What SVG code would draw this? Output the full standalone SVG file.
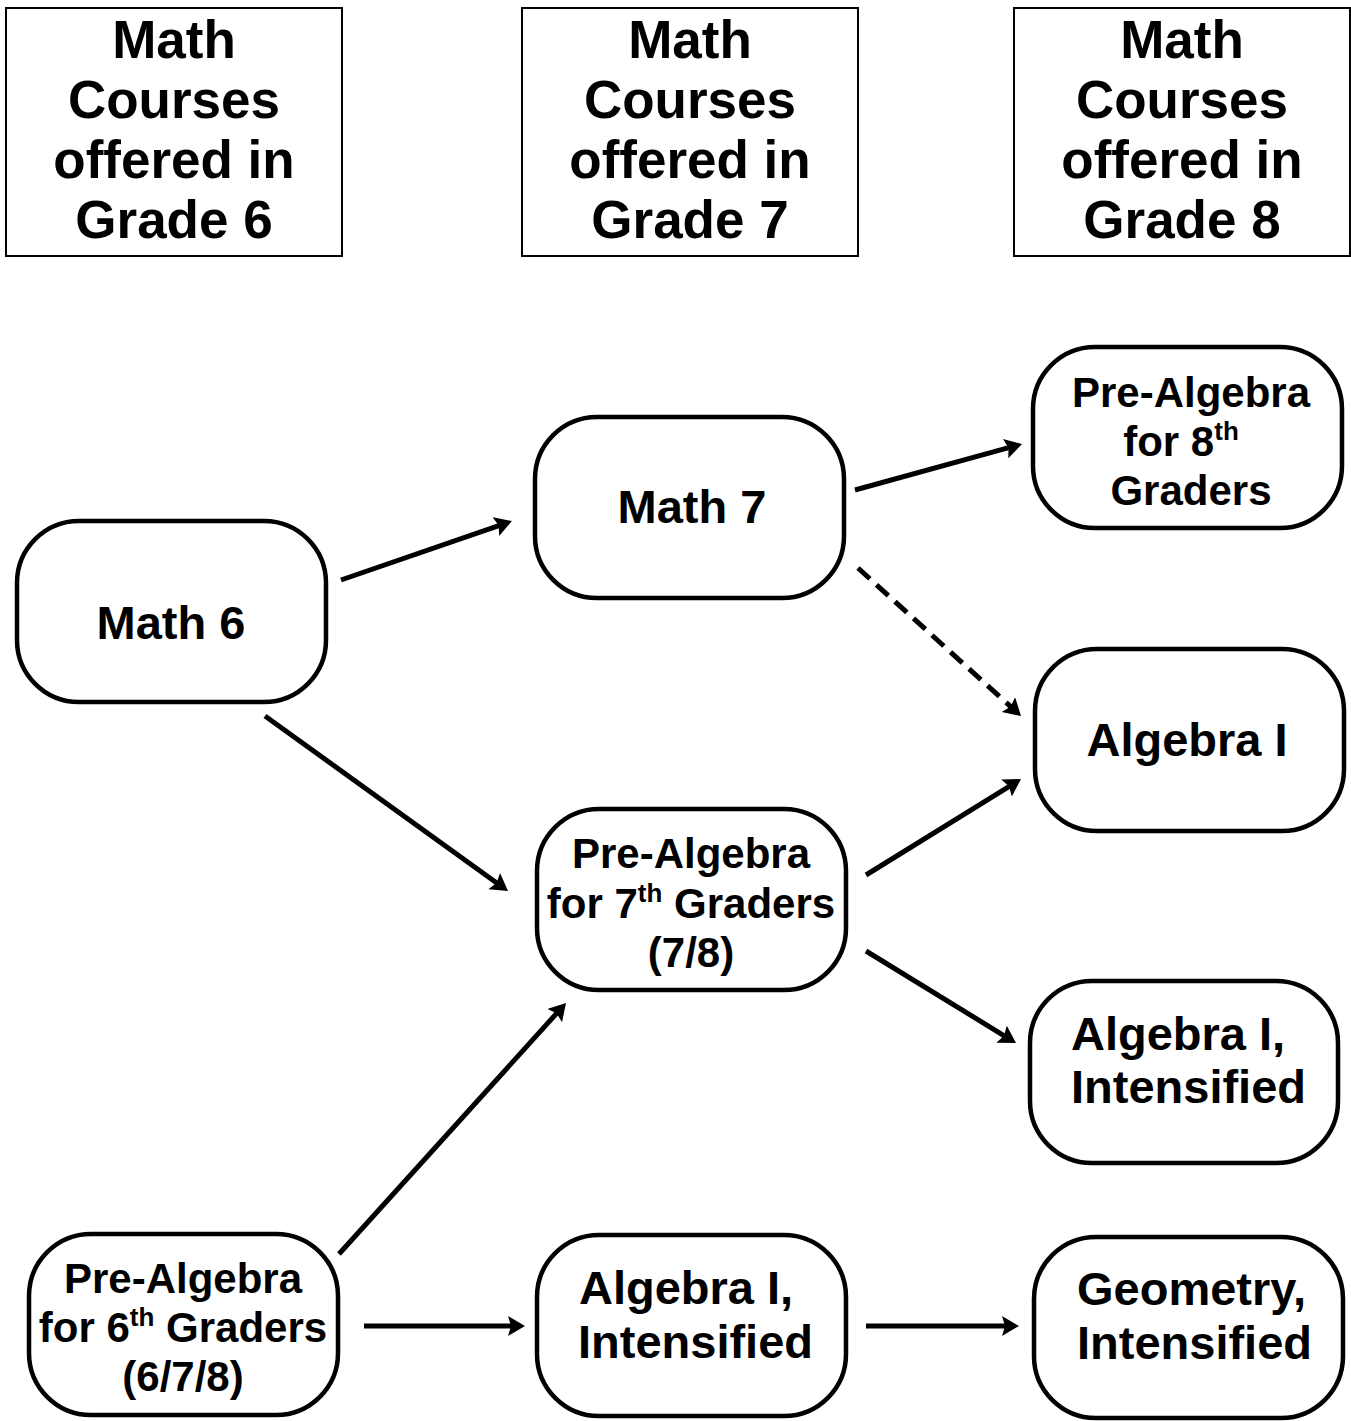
<svg xmlns="http://www.w3.org/2000/svg" width="1351" height="1421" viewBox="0 0 1351 1421">
<style>
.hdr{fill:#fff;stroke:#000;stroke-width:2}
.nd{fill:#fff;stroke:#000;stroke-width:4.5}
text{font-family:"Liberation Sans",Arial,sans-serif;font-weight:bold;fill:#000}
.h{font-size:53px;text-anchor:middle}
.b{font-size:47px;text-anchor:middle}
.s{font-size:42px;text-anchor:middle}
.l{font-size:47px}
.sup{font-size:26px}
.c{stroke:#000;stroke-width:5;fill:none;marker-end:url(#ah)}
.d{stroke-dasharray:16 9}
</style>
<defs>
<marker id="ah" markerUnits="userSpaceOnUse" markerWidth="24" markerHeight="24" refX="7" refY="10" orient="auto">
<path d="M0,0 L17,10 L0,20 L3,10 Z" fill="#000"/>
</marker>
</defs>
<rect width="1351" height="1421" fill="#fff"/>
<g id="header-grade6">
<rect class="hdr" x="6" y="8" width="336" height="248"/>
<text class="h" x="174" y="58">Math</text>
<text class="h" x="174" y="118">Courses</text>
<text class="h" x="174" y="178">offered in</text>
<text class="h" x="174" y="238">Grade 6</text>
</g>
<g id="header-grade7">
<rect class="hdr" x="522" y="8" width="336" height="248"/>
<text class="h" x="690" y="58">Math</text>
<text class="h" x="690" y="118">Courses</text>
<text class="h" x="690" y="178">offered in</text>
<text class="h" x="690" y="238">Grade 7</text>
</g>
<g id="header-grade8">
<rect class="hdr" x="1014" y="8" width="336" height="248"/>
<text class="h" x="1182" y="58">Math</text>
<text class="h" x="1182" y="118">Courses</text>
<text class="h" x="1182" y="178">offered in</text>
<text class="h" x="1182" y="238">Grade 8</text>
</g>
<g id="math6">
<rect class="nd" x="17" y="521" width="309" height="181" rx="62" ry="62"/>
<text class="b" x="171" y="639">Math 6</text>
</g>
<g id="math7">
<rect class="nd" x="535" y="417" width="309" height="181" rx="62" ry="62"/>
<text class="b" x="692" y="523">Math 7</text>
</g>
<g id="prealg8">
<rect class="nd" x="1033" y="347" width="309" height="181" rx="62" ry="62"/>
<text class="s" x="1191" y="407">Pre-Algebra</text>
<text class="s" x="1181" y="456">for 8<tspan class="sup" dy="-16">th</tspan></text>
<text class="s" x="1191" y="505">Graders</text>
</g>
<g id="algebra1">
<rect class="nd" x="1035" y="649" width="309" height="182" rx="62" ry="62"/>
<text class="b" x="1187" y="756">Algebra I</text>
</g>
<g id="prealg7">
<rect class="nd" x="537" y="809" width="309" height="181" rx="62" ry="62"/>
<text class="s" x="691" y="868">Pre-Algebra</text>
<text class="s" x="691" y="918">for 7<tspan class="sup" dy="-16">th</tspan><tspan dy="16"> Graders</tspan></text>
<text class="s" x="691" y="967">(7/8)</text>
</g>
<g id="alg1int-8">
<rect class="nd" x="1030" y="981" width="308" height="182" rx="62" ry="62"/>
<text class="l" x="1071" y="1050">Algebra I,</text>
<text class="l" x="1071" y="1103">Intensified</text>
</g>
<g id="prealg6">
<rect class="nd" x="29" y="1234" width="309" height="181" rx="62" ry="62"/>
<text class="s" x="183" y="1293">Pre-Algebra</text>
<text class="s" x="183" y="1342">for 6<tspan class="sup" dy="-16">th</tspan><tspan dy="16"> Graders</tspan></text>
<text class="s" x="183" y="1391">(6/7/8)</text>
</g>
<g id="alg1int-7">
<rect class="nd" x="537" y="1235" width="309" height="181" rx="62" ry="62"/>
<text class="l" x="579" y="1304">Algebra I,</text>
<text class="l" x="578" y="1358">Intensified</text>
</g>
<g id="geometry-int">
<rect class="nd" x="1034" y="1237" width="309" height="181" rx="62" ry="62"/>
<text class="l" x="1077" y="1305">Geometry,</text>
<text class="l" x="1077" y="1359">Intensified</text>
</g>
<g id="connectors">
<line class="c" x1="341" y1="580" x2="502.5" y2="524.3"/>
<line class="c" x1="855" y1="490" x2="1012.4" y2="446.7"/>
<line class="c d" x1="858" y1="568" x2="1013.6" y2="709.3"/>
<line class="c" x1="265" y1="716" x2="499.9" y2="885.2"/>
<line class="c" x1="866" y1="875" x2="1012.5" y2="784.3"/>
<line class="c" x1="866" y1="951" x2="1007.5" y2="1037.8"/>
<line class="c" x1="339" y1="1254" x2="559.3" y2="1010.4"/>
<line class="c" x1="364" y1="1326" x2="515" y2="1326"/>
<line class="c" x1="866" y1="1326" x2="1009" y2="1326"/>
</g>
</svg>
